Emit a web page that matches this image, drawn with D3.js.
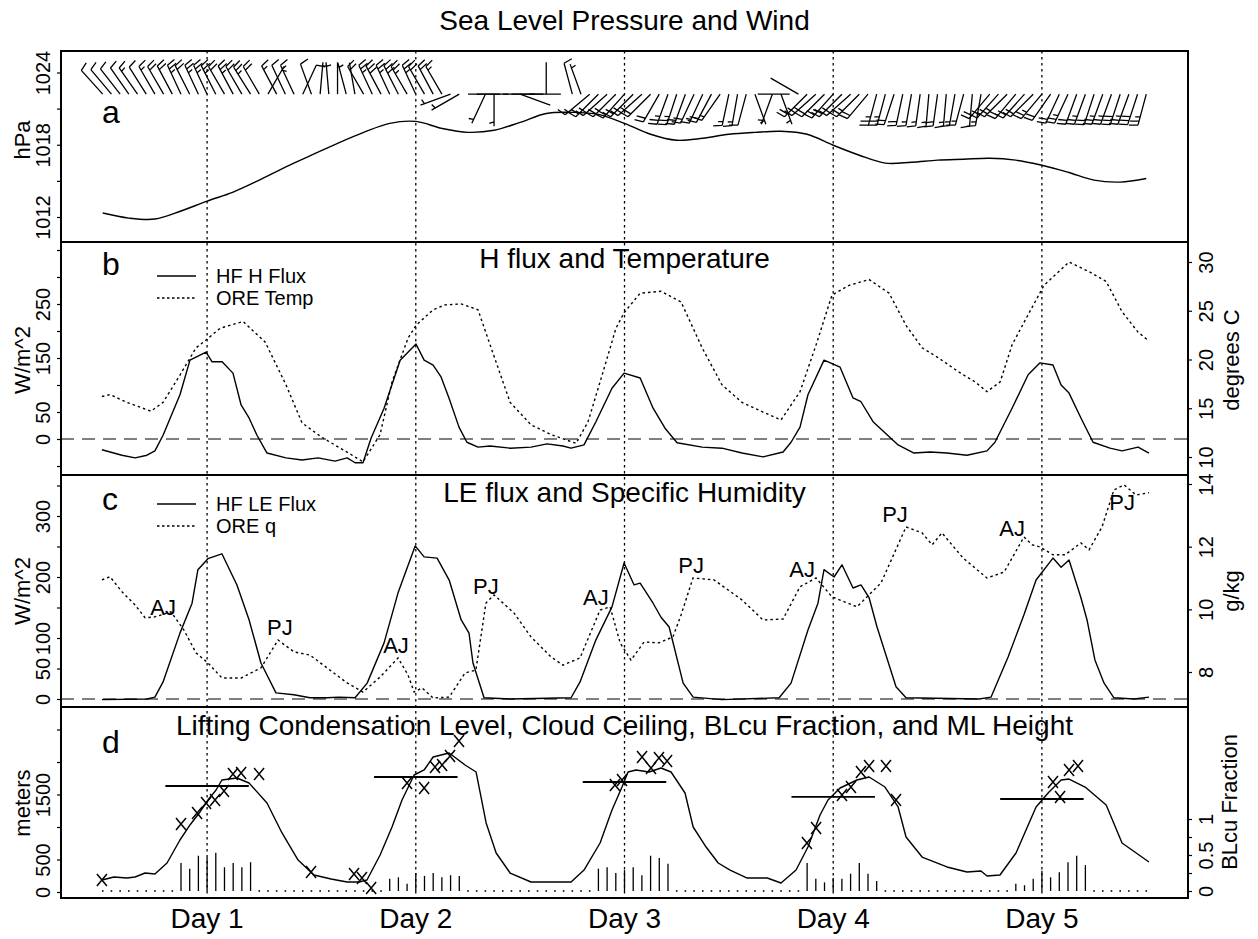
<!DOCTYPE html>
<html>
<head>
<meta charset="utf-8">
<script src="https://cdn.jsdelivr.net/npm/d3@7"></script>
<style>
  body { margin: 0; background: #fff; }
  svg text { font-family: 'Liberation Sans', Arial, Helvetica, sans-serif; fill: #000; }
</style>
</head>
<body>
<svg id="chart" width="1258" height="939"></svg>
<script>
// ---------------- data ----------------
const dayTicks = [1, 2, 3, 4, 5];
const dayLabels = ["Day 1", "Day 2", "Day 3", "Day 4", "Day 5"];

// (a) sea level pressure, hPa, every 3 h
const pressureDay = [0.5,0.625,0.75,0.875,1,1.125,1.25,1.375,1.5,1.625,1.75,1.875,2,2.125,2.25,2.375,2.5,2.625,2.75,2.875,3,3.125,3.25,3.375,3.5,3.625,3.75,3.875,4,4.125,4.25,4.375,4.5,4.625,4.75,4.875,5,5.125,5.25,5.375,5.5];
const pressureHPa = [1012.33,1011.91,1011.83,1012.5,1013.32,1014.07,1015.06,1016.14,1017.13,1018.12,1019.03,1019.78,1019.94,1019.36,1019.03,1019.2,1019.86,1020.6,1020.69,1020.52,1019.78,1018.87,1018.37,1018.54,1018.87,1019.03,1019.12,1018.87,1017.96,1017.13,1016.47,1016.55,1016.72,1016.8,1016.88,1016.72,1016.3,1015.72,1015.06,1014.9,1015.2];
const pressureTicks = [1012, 1015, 1018, 1021, 1024];
const pressureLabels = [1012, 1018, 1024];

// (a) hourly wind starting at day 0.5: direction (deg, from) and speed (kt)
const windStartDay = 0.5;
const windDir = [318,320,322,325,325,328,330,330,332,335,333,335,335,333,330,332,330,328,330,30,
  332,335,335,25,340,5,355,0,345,350,330,335,332,335,333,330,335,330,332,330,
  250,240,90,90,205,180,90,90,110,90,null,0,null,null,345,340,230,225,228,225,
  222,225,228,225,210,200,198,200,205,205,208,215,192,190,195,160,null,200,160,270,
  300,225,228,225,222,225,228,225,220,195,195,198,192,190,188,185,188,185,190,195,
  185,190,220,222,225,220,222,225,220,215,205,205,200,200,198,200,200,198,200,198,195];
const windSpd = [10,10,10,10,15,10,15,20,20,25,20,25,25,25,20,25,20,25,20,5,
  15,10,15,10,10,5,5,3,5,3,20,25,30,25,30,25,25,20,20,15,
  5,5,2,2,5,5,2,2,2,2,null,2,null,null,10,5,15,20,20,25,
  20,20,25,20,20,25,25,20,20,15,20,15,15,15,10,5,null,5,5,2,
  3,20,25,20,25,20,20,25,20,25,25,20,20,15,15,15,20,15,15,15,
  10,15,20,20,25,20,20,20,25,20,20,25,20,25,20,25,25,30,25,30,25];

// (b) HF sensible heat flux, W/m^2
const hDay = [0.496,0.592,0.655,0.712,0.75,0.789,0.87,0.918,0.995,1.024,1.072,1.124,1.163,1.201,1.239,1.287,1.378,1.455,1.532,1.613,1.671,1.709,1.747,1.786,1.848,1.925,2.001,2.04,2.083,2.121,2.159,2.207,2.245,2.298,2.356,2.452,2.552,2.629,2.705,2.744,2.806,2.863,2.94,2.998,3.075,3.137,3.194,3.252,3.372,3.467,3.563,3.664,3.76,3.798,3.841,3.879,3.956,4.033,4.095,4.133,4.191,4.311,4.387,4.464,4.545,4.641,4.737,4.775,4.857,4.934,4.991,5.053,5.092,5.13,5.187,5.245,5.326,5.384,5.461,5.513];
const hFlux = [-20,-30,-35,-30,-22,7,82,146,161,143,143,122,63,39,7,-26,-35,-39,-35,-41,-35,-44,-44,2,57,146,176,146,137,115,76,22,-6,-15,-13,-17,-15,-9,-13,-17,-11,32,94,122,113,57,20,-7,-15,-17,-26,-33,-24,-6,22,82,146,133,76,69,32,-11,-26,-24,-26,-30,-22,-6,57,119,141,137,100,85,39,-6,-17,-22,-15,-26];

// (b) ORE temperature, deg C
const tDay = [0.496,0.535,0.616,0.731,0.789,0.87,0.947,0.995,1.062,1.172,1.278,1.378,1.455,1.551,1.671,1.747,1.829,1.886,1.963,2.001,2.083,2.14,2.217,2.298,2.356,2.452,2.552,2.648,2.768,2.825,2.883,2.959,2.998,3.075,3.175,3.271,3.372,3.467,3.563,3.664,3.75,3.841,3.918,3.994,4.076,4.172,4.268,4.349,4.426,4.502,4.603,4.68,4.737,4.8,4.857,4.934,5.01,5.13,5.226,5.308,5.384,5.461,5.513];
const tempC = [16.2,16.4,15.6,14.7,15.6,18.4,21.2,22.0,23.2,23.9,21.8,17.4,13.5,12.0,10.5,9.5,12.3,17.7,22.2,23.5,25.1,25.6,25.7,25.1,21.5,15.6,13.3,12.3,11.4,13.6,17.7,23.2,24.8,26.8,27.0,25.9,21.2,17.4,15.6,14.6,13.8,16.7,21.5,26.6,27.6,28.2,26.8,23.5,21.2,20.2,18.7,17.7,16.7,17.7,21.5,24.6,27.6,30.0,29.0,28.0,24.9,22.8,21.9];
const hTicks = [-50, 0, 50, 100, 150, 200, 250, 300, 350];
const hLabels = [0, 50, 150, 250];
const tTicks = [10, 15, 20, 25, 30];

// (c) HF latent heat flux, W/m^2
const leDay = [0.496,0.712,0.75,0.789,0.87,0.928,0.956,1.004,1.071,1.143,1.201,1.258,1.33,1.416,1.493,1.575,1.632,1.709,1.767,1.848,1.915,1.997,2.04,2.102,2.16,2.217,2.255,2.274,2.327,2.452,2.744,2.787,2.863,2.94,2.998,3.046,3.075,3.137,3.175,3.214,3.281,3.329,3.467,3.741,3.798,3.879,3.927,3.956,4.004,4.042,4.095,4.133,4.172,4.21,4.301,4.349,4.699,4.756,4.838,4.914,4.972,5.053,5.092,5.13,5.187,5.216,5.254,5.298,5.345,5.441,5.513];
const leFlux = [-1,0,3,28,108,157,212,230,238,187,130,59,10,7,2,2,3,2,26,92,174,251,233,231,195,130,108,59,2,0,2,28,97,151,223,187,190,157,134,118,26,3,-1,2,26,113,157,212,200,220,182,187,166,118,20,2,0,3,69,138,195,231,216,228,166,130,64,26,2,0,3];

// (c) ORE specific humidity, g/kg
const qDay = [0.496,0.535,0.592,0.655,0.703,0.75,0.827,0.889,0.947,1.004,1.071,1.163,1.258,1.34,1.417,1.493,1.575,1.671,1.747,1.829,1.915,1.963,1.992,2.03,2.083,2.16,2.236,2.288,2.336,2.375,2.471,2.552,2.648,2.705,2.787,2.883,2.931,2.979,3.031,3.094,3.165,3.232,3.271,3.328,3.429,3.563,3.664,3.76,3.841,3.918,3.994,4.114,4.229,4.349,4.426,4.474,4.521,4.622,4.737,4.819,4.914,4.953,4.991,5.053,5.111,5.187,5.226,5.288,5.345,5.394,5.451,5.513];
const qGkg = [10.94,11.04,10.56,10.14,9.73,9.76,9.92,9.34,8.61,8.29,7.81,7.81,8.13,9.02,8.64,8.54,8.13,7.65,7.36,7.84,8.45,7.9,7.36,7.49,7.17,7.2,7.97,8.06,10.2,10.46,9.88,9.12,8.48,8.22,8.45,9.98,10.08,8.93,8.38,8.96,8.93,9.12,9.82,11.0,10.94,10.3,9.66,9.69,10.72,11.0,10.4,10.08,10.84,12.63,12.44,12.06,12.44,11.64,11.0,11.19,12.31,12.06,11.99,11.74,11.74,12.12,11.9,12.63,13.81,13.97,13.65,13.72];
const leTicks = [0, 50, 100, 150, 200, 250, 300, 350];
const leLabels = [0, 50, 100, 200, 300];
const qTicks = [8, 10, 12, 14];

// (c) jet annotations: AJ / PJ, placed at (day, q)
const jetText = ["AJ","PJ","AJ","PJ","AJ","PJ","AJ","PJ","AJ","PJ"];
const jetDay = [0.789,1.349,1.905,2.336,2.863,3.319,3.851,4.296,4.857,5.384];
const jetQ = [9.82,9.18,8.61,10.49,10.14,11.16,11.04,12.79,12.35,13.18];

// (d) mixed-layer height, m
const mlDay = [0.496,0.554,0.616,0.655,0.703,0.75,0.808,0.87,0.918,0.966,1.004,1.043,1.071,1.143,1.201,1.287,1.359,1.436,1.512,1.594,1.671,1.728,1.766,1.829,1.886,1.934,1.992,2.04,2.083,2.16,2.236,2.289,2.337,2.385,2.452,2.552,2.648,2.744,2.806,2.883,2.94,2.988,3.017,3.055,3.118,3.175,3.223,3.29,3.329,3.391,3.449,3.506,3.588,3.684,3.75,3.822,3.879,3.937,3.975,4.033,4.114,4.172,4.248,4.311,4.349,4.426,4.545,4.641,4.708,4.737,4.799,4.876,4.972,5.034,5.092,5.13,5.207,5.308,5.384,5.513];
const mlHeight = [185,231,215,231,292,277,446,800,1031,1231,1415,1569,1723,1754,1677,1369,908,492,262,200,154,154,185,569,1000,1415,1800,1877,2077,2138,1954,1846,1062,600,292,154,154,154,338,754,1262,1615,1846,1877,1846,1908,1846,1523,1000,692,446,338,215,215,138,338,692,1185,1415,1600,1723,1769,1615,1308,846,538,385,308,323,246,262,600,1308,1538,1723,1738,1615,1338,754,462];

// (d) cloud ceiling observations, m
const ceilDay = [0.496,0.875,0.952,0.995,1.038,1.081,1.124,1.163,1.249,1.498,1.704,1.742,1.786,1.958,2.04,2.092,2.126,2.164,2.207,2.954,2.988,3.084,3.127,3.165,3.204,3.874,3.918,4.042,4.085,4.133,4.172,4.253,4.301,5.053,5.087,5.13,5.173];
const ceilHeight = [185,1046,1215,1369,1415,1554,1815,1831,1815,308,277,215,62,1677,1600,1923,1954,2092,2323,1646,1723,2077,1908,2062,2015,754,985,1492,1615,1846,1938,1938,1415,1692,1462,1877,1938];

// (d) midday lifting condensation level, m
const lclDayStart = [0.8, 1.8, 2.8, 3.8, 4.8];
const lclDayEnd = [1.2, 2.2, 3.2, 4.2, 5.2];
const lclHeight = [1631, 1769, 1692, 1462, 1431];

// (d) hourly boundary-layer cumulus fraction starting at day 0.5
const blcuStartDay = 0.5;
const blcuFrac = [0,0,0,0,0,0,0,0,0,0.39,0.31,0.49,0.47,0.53,0.33,0.39,0.33,0.40,0,0,
  0,0,0,0,0,0,0,0,0,0,0,0,0,0.17,0.19,0.10,0.25,0.21,0.25,0.19,
  0.22,0.21,0,0,0,0,0,0,0,0,0,0,0,0,0,0,0,0.31,0.33,0.25,
  0.29,0.33,0.22,0.49,0.46,0.38,0,0,0,0,0,0,0,0,0,0,0,0,0,0,
  0,0.39,0.17,0.12,0.18,0.17,0.24,0.39,0.24,0.14,0,0,0,0,0,0,0,0,0,0,
  0,0,0,0,0,0.10,0.08,0.17,0.28,0.19,0.26,0.40,0.49,0.36,0,0,0,0,0,0,0];
const mTicks = [0, 500, 1000, 1500, 2000, 2500];
const mLabels = [0, 500, 1500];
const fracTicks = [0, 0.25, 0.5, 0.75, 1];
const fracLabels = [0, 0.5, 1];

// ---------------- layout ----------------
const svg = d3.select("#chart");
const L = 61, R = 1188;
const panelTop = { a: 51, b: 242, c: 475, d: 707 };
const panelBot = { a: 242, b: 475, c: 707, d: 898 };

const x = d3.scaleLinear().domain([0.3, 5.7]).range([L, R]);
const yP = d3.scaleLinear().domain([1012, 1024]).range([217, 72.5]);
const yH = d3.scaleLinear().domain([0, 150]).range([439, 358]);
const yT = d3.scaleLinear().domain([10, 30]).range([457, 262]);
const yLE = d3.scaleLinear().domain([0, 300]).range([699, 516]);
const yQ = d3.scaleLinear().domain([8, 14]).range([672, 484]);
const yM = d3.scaleLinear().domain([0, 1500]).range([892, 794.5]);
const yF = d3.scaleLinear().domain([0, 1]).range([891, 819]);

const pts = (days, vals) => days.map((d, i) => [d, vals[i]]);
const ink = "#000";

// day grid lines across all panels
svg.append("g").selectAll("line").data(dayTicks).join("line")
  .attr("x1", d => x(d)).attr("x2", d => x(d))
  .attr("y1", panelTop.a).attr("y2", panelBot.d)
  .attr("stroke", ink).attr("stroke-width", 1.3).attr("stroke-dasharray", "2.5,3.5");

// ---------- axes helpers ----------
function yAxis(scale, ticks, labels, side, labelOffset) {
  const ax = (side === "left" ? d3.axisLeft(scale) : d3.axisRight(scale))
    .tickValues(ticks).tickSize(4)
    .tickFormat(v => labels.includes(v) ? String(v) : "");
  const g = svg.append("g")
    .attr("transform", `translate(${side === "left" ? L : R},0)`)
    .call(ax);
  g.select(".domain").remove();
  g.selectAll(".tick line").attr("stroke", ink).attr("stroke-width", 1.2);
  g.selectAll(".tick text")
    .attr("x", null).attr("y", null).attr("dy", "0.36em")
    .attr("text-anchor", "middle")
    .attr("transform", `translate(${side === "left" ? -labelOffset : labelOffset},0) rotate(-90)`)
    .style("font-size", "20px")
    .style("font-family", "'Liberation Sans', Arial, Helvetica, sans-serif")
    .attr("fill", ink);
  return g;
}
function axisTitle(text, cx, cy) {
  svg.append("text")
    .attr("transform", `translate(${cx},${cy}) rotate(-90)`)
    .attr("text-anchor", "middle").attr("dy", "0.36em")
    .style("font-size", "22px").text(text);
}
function panelTitle(text, baseline) {
  svg.append("text").attr("x", (L + R) / 2).attr("y", baseline)
    .attr("text-anchor", "middle").style("font-size", "28px").text(text);
}
function panelLetter(text, baseline) {
  svg.append("text").attr("x", 102).attr("y", baseline)
    .style("font-size", "32px").text(text);
}
function legend(items, x0, y0, dy) {
  items.forEach((it, i) => {
    const yy = y0 + i * dy;
    svg.append("line").attr("x1", x0).attr("x2", x0 + 39).attr("y1", yy).attr("y2", yy)
      .attr("stroke", ink).attr("stroke-width", 1.4)
      .attr("stroke-dasharray", it.dash ? "2.5,2.5" : null);
    svg.append("text").attr("x", x0 + 59).attr("y", yy + 7)
      .style("font-size", "20px").text(it.label);
  });
}

const solid = (sel) => sel.attr("fill", "none").attr("stroke", ink).attr("stroke-width", 1.4).attr("stroke-linejoin", "round");
const dotted = (sel) => sel.attr("fill", "none").attr("stroke", ink).attr("stroke-width", 1.4).attr("stroke-dasharray", "2.5,3");

// ---------- panel a: pressure and wind ----------
panelTitle("Sea Level Pressure and Wind", 30);
yAxis(yP, pressureTicks, pressureLabels, "left", 18);
axisTitle("hPa", 22, 140);
panelLetter("a", 123);

svg.append("path")
  .datum(pts(pressureDay, pressureHPa))
  .attr("d", d3.line().x(d => x(d[0])).y(d => yP(d[1])).curve(d3.curveCatmullRom))
  .call(solid);

// wind barbs, staff pointing to the direction the wind blows from
const barbBaseY = yP(1022.2);
const staffLen = 32, featherLen = 9, featherGap = 4.2, featherTilt = 15 * Math.PI / 180;
const barbPaths = [];
windDir.forEach((dir, k) => {
  if (dir == null || windSpd[k] == null) return;
  const spd = windSpd[k];
  const bx = x(windStartDay + k / 24), by = barbBaseY;
  const th = dir * Math.PI / 180;
  const ux = Math.sin(th), uy = -Math.cos(th);
  const px = -uy, py = ux;
  const fx = Math.cos(featherTilt) * px + Math.sin(featherTilt) * ux;
  const fy = Math.cos(featherTilt) * py + Math.sin(featherTilt) * uy;
  let d = `M${bx},${by}L${bx + staffLen * ux},${by + staffLen * uy}`;
  const full = Math.floor(spd / 10);
  const half = (spd - full * 10) >= 5 ? 1 : 0;
  let pos = staffLen;
  if (full === 0 && half === 1) pos -= featherGap;
  for (let i = 0; i < full; i++) {
    const sx = bx + pos * ux, sy = by + pos * uy;
    d += `M${sx},${sy}L${sx + featherLen * fx},${sy + featherLen * fy}`;
    pos -= featherGap;
  }
  if (half) {
    const sx = bx + pos * ux, sy = by + pos * uy;
    d += `M${sx},${sy}L${sx + featherLen * 0.55 * fx},${sy + featherLen * 0.55 * fy}`;
  }
  barbPaths.push(d);
});
svg.append("g").selectAll("path").data(barbPaths).join("path")
  .attr("d", d => d).attr("fill", "none").attr("stroke", ink).attr("stroke-width", 1.3);

// ---------- panel b: sensible heat flux and temperature ----------
panelTitle("H flux and Temperature", 268);
yAxis(yH, hTicks.filter(v => yH(v) > panelTop.b && yH(v) < panelBot.b), hLabels, "left", 18);
yAxis(yT, tTicks, tTicks, "right", 18);
axisTitle("W/m^2", 22, 360);
axisTitle("degrees C", 1231, 360);
panelLetter("b", 275);
legend([{ label: "HF H Flux" }, { label: "ORE Temp", dash: true }], 157, 276, 22);

svg.append("line").attr("x1", L).attr("x2", R).attr("y1", yH(0)).attr("y2", yH(0))
  .attr("stroke", ink).attr("stroke-width", 1).attr("stroke-dasharray", "13,8");
svg.append("path").datum(pts(tDay, tempC))
  .attr("d", d3.line().x(d => x(d[0])).y(d => yT(d[1]))).call(dotted);
svg.append("path").datum(pts(hDay, hFlux))
  .attr("d", d3.line().x(d => x(d[0])).y(d => yH(d[1]))).call(solid);

// ---------- panel c: latent heat flux and specific humidity ----------
panelTitle("LE flux and Specific Humidity", 502);
yAxis(yLE, leTicks.filter(v => yLE(v) > panelTop.c && yLE(v) < panelBot.c), leLabels, "left", 18);
yAxis(yQ, qTicks, qTicks, "right", 18);
axisTitle("W/m^2", 22, 591);
axisTitle("g/kg", 1231, 591);
panelLetter("c", 510);
legend([{ label: "HF LE Flux" }, { label: "ORE q", dash: true }], 157, 504, 22);

svg.append("line").attr("x1", L).attr("x2", R).attr("y1", yLE(0)).attr("y2", yLE(0))
  .attr("stroke", ink).attr("stroke-width", 1).attr("stroke-dasharray", "13,8");
svg.append("path").datum(pts(qDay, qGkg))
  .attr("d", d3.line().x(d => x(d[0])).y(d => yQ(d[1]))).call(dotted);
svg.append("path").datum(pts(leDay, leFlux))
  .attr("d", d3.line().x(d => x(d[0])).y(d => yLE(d[1]))).call(solid);
svg.append("g").selectAll("text").data(jetText).join("text")
  .attr("x", (d, i) => x(jetDay[i])).attr("y", (d, i) => yQ(jetQ[i]))
  .attr("text-anchor", "middle").style("font-size", "22px").text(d => d);

// ---------- panel d: LCL, ceiling, BLcu fraction, ML height ----------
panelTitle("Lifting Condensation Level, Cloud Ceiling, BLcu Fraction, and ML Height", 735);
yAxis(yM, mTicks.filter(v => yM(v) > panelTop.d && yM(v) < panelBot.d), mLabels, "left", 18);
yAxis(yF, fracTicks, fracLabels, "right", 18);
axisTitle("meters", 22, 803);
axisTitle("BLcu Fraction", 1229, 802);
panelLetter("d", 753);

const blcu = blcuFrac.map((f, k) => [blcuStartDay + k / 24, f]);
svg.append("g").selectAll("line").data(blcu.filter(d => d[1] > 0)).join("line")
  .attr("x1", d => x(d[0])).attr("x2", d => x(d[0]))
  .attr("y1", yF(0)).attr("y2", d => yF(d[1]))
  .attr("stroke", ink).attr("stroke-width", 1.3);
svg.append("g").selectAll("rect").data(blcu.filter(d => d[1] === 0)).join("rect")
  .attr("x", d => x(d[0]) - 0.8).attr("y", yF(0) - 0.8)
  .attr("width", 1.6).attr("height", 1.6).attr("fill", ink);

svg.append("path").datum(pts(mlDay, mlHeight))
  .attr("d", d3.line().x(d => x(d[0])).y(d => yM(d[1]))).call(solid);

svg.append("g").selectAll("line").data(lclHeight).join("line")
  .attr("x1", (d, i) => x(lclDayStart[i])).attr("x2", (d, i) => x(lclDayEnd[i]))
  .attr("y1", d => yM(d)).attr("y2", d => yM(d))
  .attr("stroke", ink).attr("stroke-width", 1.8);

svg.append("g").selectAll("path").data(pts(ceilDay, ceilHeight)).join("path")
  .attr("d", d => {
    const cx = x(d[0]), cy = yM(d[1]);
    return `M${cx - 5},${cy - 6}L${cx + 5},${cy + 6}M${cx + 5},${cy - 6}L${cx - 5},${cy + 6}`;
  })
  .attr("fill", "none").attr("stroke", ink).attr("stroke-width", 1.5);

// day labels on the shared x axis
svg.append("g").selectAll("text").data(dayTicks).join("text")
  .attr("x", d => x(d)).attr("y", 928).attr("text-anchor", "middle")
  .style("font-size", "28px").text((d, i) => dayLabels[i]);

// frame and panel dividers
svg.append("rect").attr("x", L).attr("y", panelTop.a).attr("width", R - L).attr("height", panelBot.d - panelTop.a)
  .attr("fill", "none").attr("stroke", ink).attr("stroke-width", 2);
[panelBot.a, panelBot.b, panelBot.c].forEach(yy => {
  svg.append("line").attr("x1", L).attr("x2", R).attr("y1", yy).attr("y2", yy)
    .attr("stroke", ink).attr("stroke-width", 2);
});
</script>
</body>
</html>
